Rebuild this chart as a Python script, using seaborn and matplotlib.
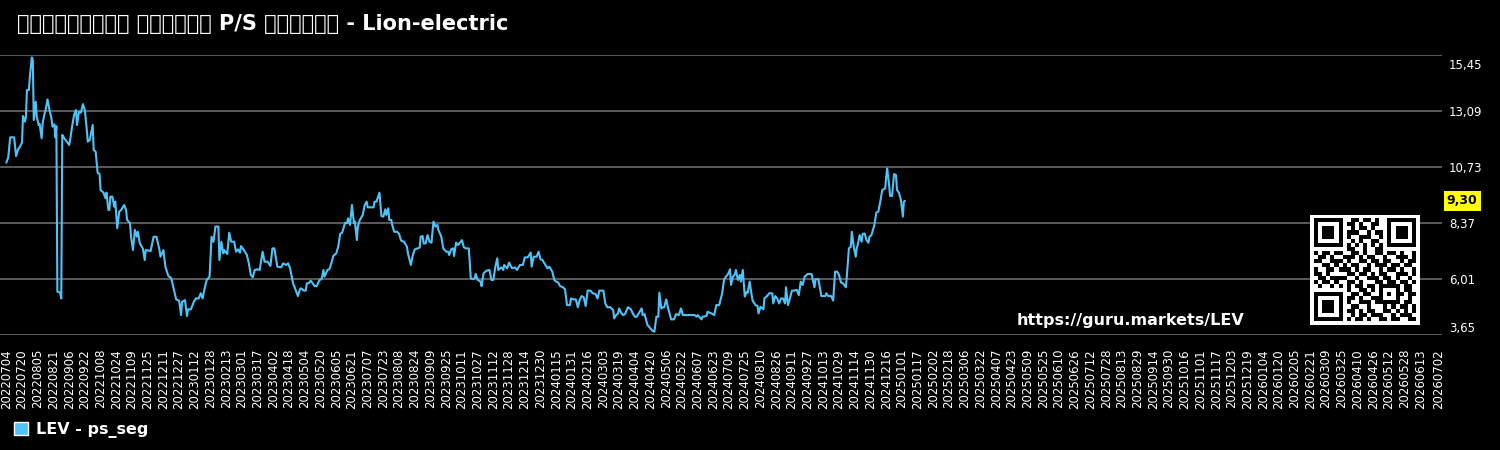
import matplotlib
matplotlib.use("Agg")
import matplotlib.pyplot as plt
from matplotlib.patches import Patch
from matplotlib.transforms import ScaledTranslation
import numpy as np
import pandas as pd
import seaborn as sns

TITLE = "ಮಾರುಕಟ್ಟೆ ವಿಭಾಗದ P/S ಚಾರ್ಟ್ - Lion-electric"
TICKER = "LEV"
SERIES = "ps_seg"
URL = "https://guru.markets/LEV"
START = "2022-07-04"
AXIS_END = "2026-07-02"

# days after START and the P/S value
days = [0, 2, 4, 8, 10, 12, 14, 16, 17, 19, 20, 21, 23, 24, 26, 27, 28, 30, 31, 33,
        34, 36, 37, 39, 40, 42, 44, 46, 47, 49, 50, 51, 52, 54, 55, 56, 57, 59, 61, 64,
        65, 67, 69, 71, 72, 74, 76, 78, 80, 82, 83, 85, 88, 89, 91, 93, 95, 96, 99, 101,
        102, 104, 105, 106, 108, 110, 111, 113, 115, 117, 120, 122, 123, 126, 127, 129, 131, 133, 134, 136,
        139, 141, 142, 147, 150, 153, 156, 157, 160, 162, 165, 168, 170, 173, 176, 178, 179, 182, 184, 185,
        188, 191, 193, 196, 198, 200, 201, 204, 207, 208, 209, 211, 213, 216, 217, 219, 221, 222, 225, 227,
        229, 232, 234, 236, 238, 239, 242, 245, 247, 249, 251, 253, 256, 258, 261, 263, 266, 269, 271, 273,
        276, 280, 282, 285, 287, 289, 292, 294, 297, 299,
        300, 303, 305, 306, 308, 310, 312, 314, 316, 319, 321, 323, 324, 327, 329, 331, 333, 336, 338, 340,
        342, 345, 347, 348, 350, 352, 354, 355, 357, 358, 360, 363, 365, 367, 368, 371, 374, 375, 377, 380,
        382, 384, 386, 387, 389, 390, 392, 393, 395, 398, 400, 402, 405, 408, 409, 412, 414, 416, 419, 421,
        422, 424, 425, 427, 429, 431, 433, 435, 437, 439, 440, 443, 445, 448, 450, 451, 453, 455, 456, 458,
        460, 462, 464, 466, 468, 471, 473, 475, 477, 478, 480, 483, 484, 486, 489, 492, 494, 496, 498, 500,
        501, 504, 506, 507, 510, 512, 515, 518, 520, 523, 526, 528, 531, 534, 535, 537, 540, 542, 544, 546,
        549, 551, 553, 556, 558, 560, 562, 564, 567, 569, 571, 574, 575, 578, 580, 582, 584, 586, 588, 590,
        592, 595, 597, 600, 602, 604,
        606, 608, 610, 612, 615, 618, 619, 621, 623, 624, 626, 628, 630, 633, 636, 638, 640, 642, 645, 647,
        648, 650, 652, 653, 656, 658, 660, 662, 664, 665, 667, 669, 670, 672, 674, 675, 677, 680, 682, 685,
        687, 689, 692, 696, 701, 703, 704, 708, 709, 713, 714, 718, 721, 723, 726, 729, 731, 733, 735, 737,
        738, 740, 742, 743, 745, 747, 748, 750, 752, 754, 755, 757, 759, 760, 763, 765, 766, 768, 771, 772,
        774, 777, 780, 781, 783, 785, 787, 789, 791, 793, 794, 796, 798, 800, 802, 805, 807, 809, 811, 813,
        816, 820, 823, 824, 827, 828, 830, 834, 835, 837, 840, 842, 844, 846, 848, 850, 852, 855, 857, 858,
        860, 861, 863, 865, 866, 867, 869, 871, 872, 874, 876, 878, 879, 881, 883, 884, 886, 888, 890, 892,
        895, 896, 897, 899, 900, 902, 904, 906, 907, 909, 911, 913, 914, 915]

ps_seg = [10.91, 11.14, 11.98, 11.98, 11.19, 11.47, 11.59, 11.76, 12.88, 12.64, 12.85, 13.97, 13.97, 14.54, 15.35, 15.24, 12.71, 13.48, 12.85, 12.50,
          12.54, 11.94, 12.57, 12.99, 13.13, 13.58, 13.13, 12.78, 12.43, 12.53, 11.98, 12.45, 5.48, 5.45, 5.41, 5.19, 12.08, 11.94, 11.84, 11.66,
          11.87, 12.43, 12.92, 13.13, 12.50, 13.06, 13.02, 13.38, 13.13, 12.29, 11.80, 11.87, 12.50, 11.45, 11.38, 10.49, 10.43, 9.76, 9.65, 9.41,
          9.65, 8.92, 8.92, 9.48, 9.48, 9.06, 9.27, 8.15, 8.85, 8.92, 9.13, 8.92, 8.50, 8.36, 7.79, 7.23, 8.08, 7.79, 8.00, 7.51,
          7.30, 6.81, 7.23, 7.19, 7.79, 7.79, 7.23, 6.95, 7.23, 6.53, 6.14, 6.04, 5.69, 5.15, 5.10, 4.49, 5.05, 5.12, 4.45, 4.73,
          4.73, 5.05, 5.19, 5.19, 5.41, 5.19, 5.43, 5.96, 6.11, 6.95, 7.79, 7.58, 8.22, 8.22, 6.81, 7.58, 7.09, 7.23, 7.06, 7.96,
          7.58, 7.58, 7.16, 7.26, 7.12, 7.40, 7.23, 7.02, 6.67, 6.18, 6.08, 6.39, 6.42, 6.39, 7.16, 6.74, 6.74, 6.56, 7.30, 7.30,
          6.53, 6.50, 6.67, 6.60, 6.67, 6.46, 5.83, 5.62, 5.29, 5.57,
          5.62, 5.52, 5.52, 5.83, 5.83, 5.94, 5.83, 5.71, 5.71, 5.97, 6.00, 6.39, 6.11, 6.39, 6.42, 6.67, 6.98, 7.09, 7.37, 7.91,
          7.96, 8.38, 8.36, 8.57, 8.29, 9.13, 8.36, 8.43, 7.65, 8.22, 8.50, 8.71, 9.13, 9.27, 9.03, 9.03, 9.03, 9.27, 9.27, 9.65,
          8.66, 8.64, 8.95, 8.71, 8.99, 8.50, 8.50, 8.29, 8.00, 8.00, 7.91, 7.63, 7.58, 7.37, 7.09, 6.60, 7.02, 7.26, 7.30, 7.34,
          7.79, 7.82, 7.51, 7.51, 7.86, 7.58, 7.54, 8.43, 8.22, 8.29, 8.08, 7.79, 7.30, 7.16, 7.16, 7.02, 7.26, 7.30, 6.98, 7.54,
          7.44, 7.54, 7.65, 7.34, 7.30, 7.30, 6.04, 6.00, 6.04, 6.22, 5.97, 5.90, 5.71, 6.25, 6.36, 6.39, 5.97, 5.97, 6.53, 6.88,
          6.39, 6.50, 6.39, 6.60, 6.46, 6.70, 6.46, 6.50, 6.39, 6.60, 6.60, 6.92, 6.92, 7.12, 6.53, 6.95, 6.95, 7.16, 6.84, 6.81,
          6.60, 6.46, 6.53, 6.32, 5.97, 5.90, 5.86, 5.71, 5.66, 5.57, 4.91, 4.91, 5.19, 5.15, 5.15, 4.82, 5.15, 5.29, 5.24, 4.87,
          5.52, 5.52, 5.41, 5.38, 5.19, 5.52,
          5.52, 5.52, 4.98, 4.82, 4.82, 4.70, 4.35, 4.49, 4.56, 4.77, 4.59, 4.49, 4.53, 4.82, 4.73, 4.56, 4.42, 4.42, 4.63, 4.77,
          4.49, 4.53, 4.21, 4.07, 3.93, 3.83, 3.79, 4.42, 4.42, 5.43, 4.77, 4.82, 4.82, 5.15, 4.77, 4.63, 4.31, 4.31, 4.53, 4.49,
          4.77, 4.49, 4.49, 4.49, 4.49, 4.42, 4.49, 4.31, 4.42, 4.45, 4.63, 4.56, 4.49, 4.91, 4.91, 5.41, 6.00, 6.11, 6.22, 6.42,
          5.76, 6.11, 6.22, 6.39, 5.97, 6.18, 5.90, 6.39, 5.27, 5.47, 5.43, 5.90, 5.33, 5.10, 4.91, 4.87, 4.56, 4.84, 4.73, 5.19,
          5.26, 5.41, 5.41, 4.98, 5.29, 5.19, 4.98, 5.19, 5.19, 4.98, 5.66, 4.91, 5.19, 5.52, 5.52, 5.55, 5.33, 5.90, 5.76, 6.11,
          6.22, 6.22, 5.66, 6.00, 6.00, 5.76, 5.29, 5.29, 5.41, 5.29, 5.29, 5.10, 6.32, 6.32, 6.18, 5.86, 5.83, 5.66, 6.70, 7.30,
          7.37, 8.00, 7.37, 6.95, 7.30, 7.44, 7.86, 7.58, 7.91, 7.93, 7.65, 7.54, 7.79, 7.86, 8.15, 8.29, 8.81, 8.85, 9.27, 9.76,
          9.83, 10.32, 10.67, 9.97, 9.51, 9.51, 10.43, 10.39, 9.76, 9.65, 9.34, 8.64, 9.27, 9.30]

ytick_vals = [3.65, 6.01, 8.37, 10.73, 13.09, 15.45]
last_value = 9.30

qr_rows = [
    "1111111001101101001111111",
    "1000001011010011001000001",
    "1011101001011010001011101",
    "1011101011100101101011101",
    "1011101010011100101011101",
    "1000001001010011001000001",
    "1111111010101010101111111",
    "0000000011001001100000000",
    "1011011001101001101101001",
    "0110100111010110010011101",
    "1100111010011011011001011",
    "0011010101100101110110110",
    "1001101110101100101101001",
    "1101000011011010110011101",
    "0110111100100111011010010",
    "1011010011010001101101101",
    "0100101010110110111110110",
    "0000000010011010100010110",
    "1111111001101100101011011",
    "1000001011010011100010010",
    "1011101010011101111110110",
    "1011101001100100010101101",
    "1011101011010110011010101",
    "1000001001011011100101110",
    "1111111010110100110110011",
]

LINE = "#4FC3F7"

df = pd.DataFrame({
    "date": pd.Timestamp(START) + pd.to_timedelta(days, unit="D"),
    "ps_seg": ps_seg,
})

sns.set_theme(style="dark")
plt.rcParams["font.family"] = ["DejaVu Sans"]

fig = plt.figure(figsize=(15, 4.5), dpi=100, facecolor="black")
ax = fig.add_axes([0, 115 / 450, 1442 / 1500, 280 / 450])
ax.set_facecolor("black")

sns.lineplot(data=df, x="date", y="ps_seg", ax=ax, color=LINE, lw=1.5, legend=False)

start = pd.Timestamp(START)
ax.set_xlim(start - pd.Timedelta(days=6.4), start + pd.Timedelta(days=1462))
ax.set_ylim(ytick_vals[0], ytick_vals[-1])

xticks = list(pd.date_range(START, periods=91, freq="16D")) + [pd.Timestamp(AXIS_END)]
ax.set_xticks(xticks)
ax.set_xticklabels([t.strftime("%Y%m%d") for t in xticks], rotation=90)
ax.tick_params(axis="x", length=0, pad=10, colors="white", labelsize=8.5)

ax.yaxis.tick_right()
ax.set_yticks(ytick_vals)
ax.set_yticklabels([f"{v:.2f}".replace(".", ",") for v in ytick_vals])
ax.tick_params(axis="y", length=0, pad=5, colors="white", labelsize=8.5)
ylabels = ax.get_yticklabels()
ylabels[0].set_va("bottom")
ylabels[-1].set_va("top")
ylabels[-1].set_transform(ylabels[-1].get_transform()
                          + ScaledTranslation(0, -4 / 100, fig.dpi_scale_trans))

ax.grid(axis="y", color="#5a5a5a", lw=1.4)
ax.grid(axis="x", visible=False)
ax.set_xlabel("")
ax.set_ylabel("")
for s in ax.spines.values():
    s.set_visible(False)

ax.annotate(f"{last_value:.2f}".replace(".", ","), xy=(1, last_value),
            xycoords=("axes fraction", "data"), xytext=(3.5, 0),
            textcoords="offset points", ha="left", va="center",
            fontsize=9, fontweight="bold", color="black",
            bbox=dict(boxstyle="square,pad=0.25", fc="#FFFF00", ec="none"))

fig.text(17 / 1500, 1 - 24 / 450, TITLE, color="white", fontsize=15,
         fontweight="bold", va="center", ha="left")
fig.text(1017 / 1500, 1 - 320 / 450, URL, color="white", fontsize=11.5,
         fontweight="bold", va="center", ha="left")

qr = np.array([[int(c) for c in row] for row in qr_rows])
qr = np.pad(qr, 1)
ax_qr = fig.add_axes([1310 / 1500, 125 / 450, 110 / 1500, 110 / 450])
ax_qr.imshow(qr, cmap="gray_r", interpolation="nearest", aspect="auto")
ax_qr.axis("off")

fig.legend(handles=[Patch(facecolor=LINE, label=f"{TICKER} - {SERIES}")],
           loc="center left", bbox_to_anchor=(14 / 1500, 1 - 430 / 450),
           frameon=False, prop={"weight": "bold", "size": 11.5},
           labelcolor="white", handlelength=0.9, handleheight=0.9,
           handletextpad=0.45, borderpad=0, borderaxespad=0)

fig.savefig("out.png", dpi=100, facecolor="black")
